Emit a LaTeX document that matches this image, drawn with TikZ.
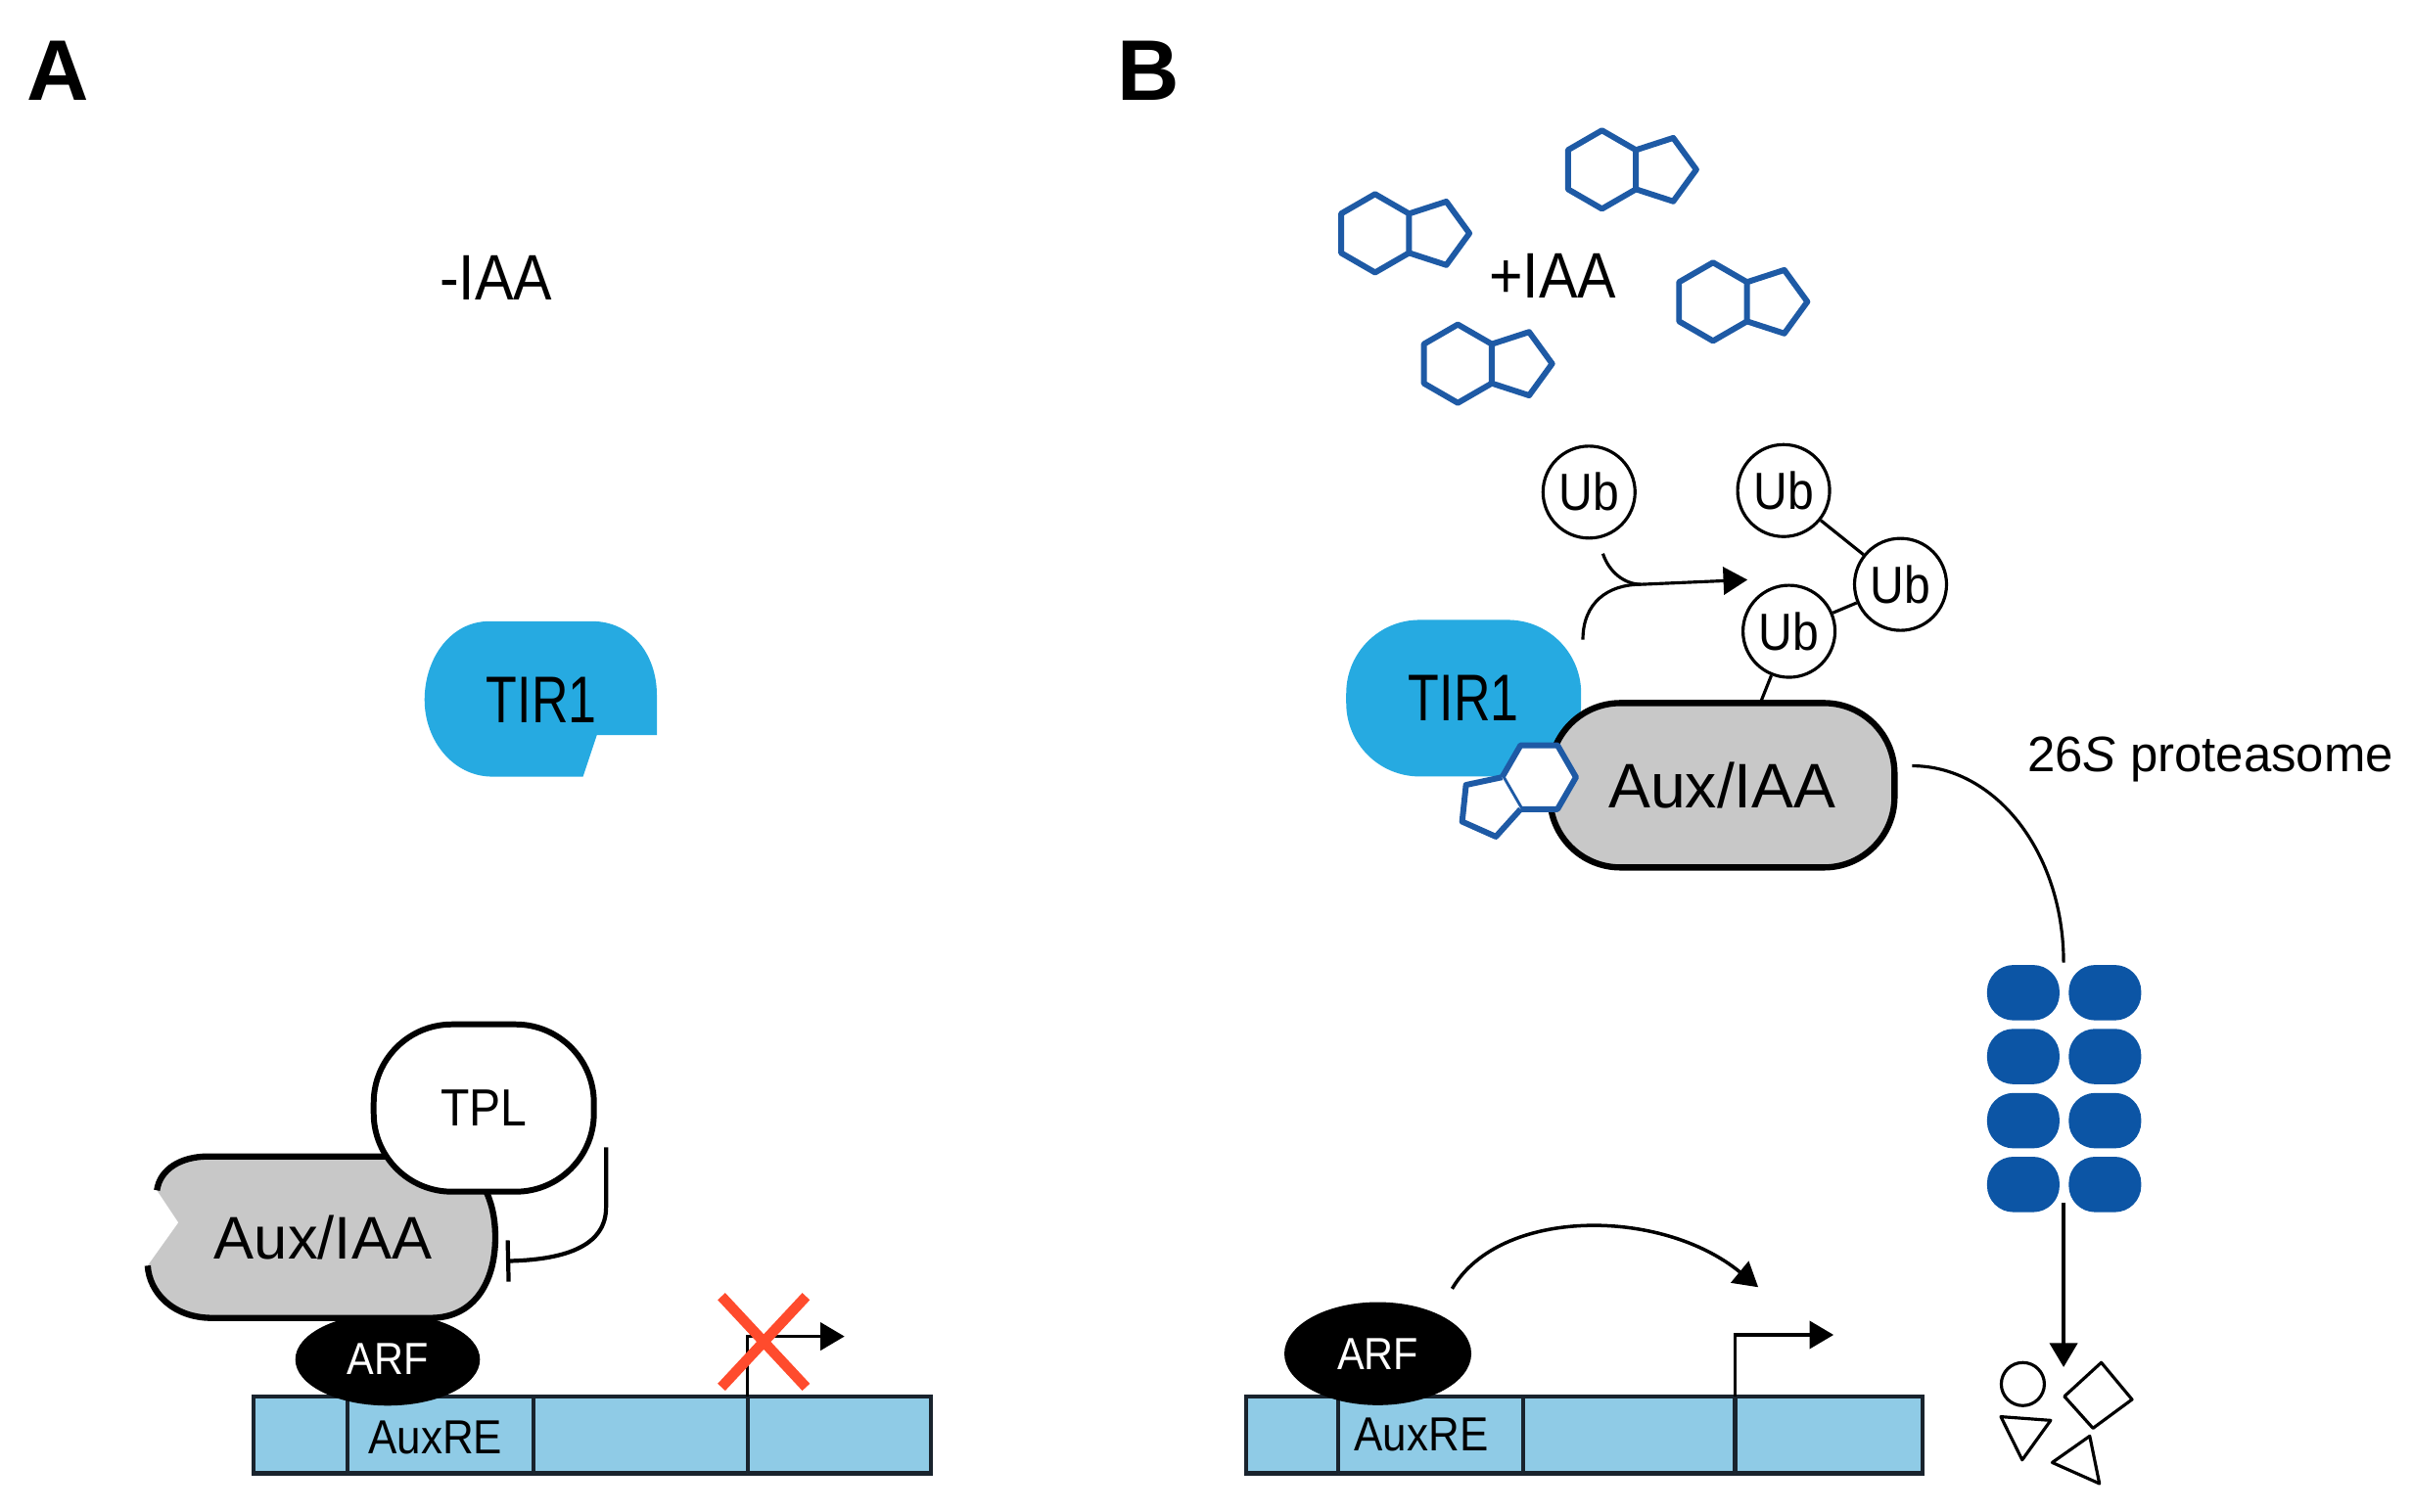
\documentclass[tikz,border=0pt]{standalone}
\usepackage{fontspec}
\setmainfont{Liberation Sans}
\newfontfamily\narrowfont[FakeStretch=0.9]{Liberation Sans}
\newfontfamily\tirfont[FakeStretch=0.77]{Liberation Sans}
\usetikzlibrary{shapes.geometric,arrows.meta}

\definecolor{tirblue}{RGB}{38,170,225}
\definecolor{auxgray}{RGB}{200,200,200}
\definecolor{dnablue}{RGB}{143,203,230}
\definecolor{dnaline}{RGB}{25,35,45}
\definecolor{iaablue}{RGB}{30,90,165}
\definecolor{protblue}{RGB}{12,85,165}
\definecolor{xred}{RGB}{255,75,45}

\tikzset{
  pics/indole/.style={code={
    \draw[iaablue, line width=1.7pt, line join=round, fill=#1]
      (30:1) -- (90:1) -- (150:1) -- (210:1) -- (270:1) -- (330:1) -- cycle;
    \draw[iaablue, line width=1.7pt, line join=round, fill=#1]
      (30:1) -- (1.8172,0.8090) -- (2.4050,0) -- (1.8172,-0.8090) -- (330:1);
  }},
  pics/indole/.default=none,
  thinline/.style={line width=0.9pt},
  dna/.style={fill=dnablue, draw=dnaline, line width=1.2pt},
  tirbox/.style={fill=tirblue, rounded corners=0.75cm, minimum width=2.40cm,
    minimum height=1.60cm, inner sep=0pt, font=\tirfont\fontsize{19.2}{20}\selectfont},
  auxbox/.style={fill=auxgray, draw, line width=1.8pt, rounded corners=0.72cm,
    minimum width=3.52cm, minimum height=1.68cm, inner sep=0pt, font=\fontsize{18.3}{20}\selectfont},
  tplbox/.style={fill=white, draw, line width=1.7pt, rounded corners=0.8cm,
    minimum width=2.25cm, minimum height=1.71cm, inner sep=0pt, font=\narrowfont\fontsize{15.2}{16}\selectfont},
  arfnode/.style={ellipse, fill=black, text=white, inner sep=0pt, font=\narrowfont\fontsize{13.1}{14}\selectfont},
  ubnode/.style={circle, draw, fill=white, line width=0.9pt, minimum size=0.94cm,
    inner sep=0pt, font=\narrowfont\fontsize{15.2}{16}\selectfont},
  pill/.style={fill=protblue, rounded corners=0.27cm, minimum width=0.74cm,
    minimum height=0.566cm, inner sep=0pt},
  frag/.style={line width=0.9pt, line join=round},
  panel/.style={anchor=base, font=\bfseries\fontsize{25}{26}\selectfont},
  iaalabel/.style={anchor=base, font=\narrowfont\fontsize{18.7}{20}\selectfont},
  auxre/.style={font=\narrowfont\fontsize{13.9}{15}\selectfont},
}

\begin{document}
\begin{tikzpicture}[x=0.015714cm, y=-0.015714cm, >={Triangle[length=7pt,width=8pt]}]

\useasboundingbox (0,0) rectangle (1568,982.6);
\fill[white] (0,0) rectangle (1568,982.6);

% panel A
\node[panel] (labA) at (37.5,65) {A};
\node[iaalabel] (minus) at (322.5,195) {-IAA};

\fill[tirblue] (318,404) -- (385,404) .. controls (410,404) and (427,425) .. (427,452)
  -- (427,478) -- (388,478) -- (379,505) -- (320,505)
  .. controls (295,505) and (276,482) .. (276,455)
  .. controls (276,428) and (293,404) .. (318,404) -- cycle;
\node[font=\tirfont\fontsize{19.2}{20}\selectfont] (tirA) at (352,455) {TIR1};

\draw[dna] (165,908) rectangle (605,958);
\foreach \x in {226,347,486}
  \draw[dna] (\x,908) -- (\x,958);
\node[auxre] (auxreA) at (283,935) {AuxRE};

\node[arfnode, minimum width=1.886cm, minimum height=0.943cm] (arfA) at (252,884) {ARF};

\fill[auxgray] (102,774) .. controls (104,760) and (118,752) .. (135,752) -- (280,752)
  .. controls (308,752) and (322,775) .. (322,804.5)
  .. controls (322,834) and (308,857) .. (280,857) -- (138,857)
  .. controls (112,857) and (97,840) .. (96,823) -- (116,795) -- cycle;
\draw[line width=1.8pt] (102,774) .. controls (104,760) and (118,752) .. (135,752) -- (280,752)
  .. controls (308,752) and (322,775) .. (322,804.5)
  .. controls (322,834) and (308,857) .. (280,857) -- (138,857)
  .. controls (112,857) and (97,840) .. (96,823);
\node[font=\fontsize{17.5}{19}\selectfont] (auxA) at (210,805) {Aux/IAA};

\node[tplbox] (tpl) at (314.5,720.5) {TPL};

\coordinate (tplout) at (394,746);
\coordinate (auxhit) at (329,820);
\draw[line width=1.2pt, -{Bar[width=12pt]}] (tplout) -- (394,785)
  .. controls (394,808) and (372,819) .. (auxhit);

\coordinate (tssA) at (486,908);
\draw[line width=1pt, ->] (tssA) -- ++(0,-39) -- ++(63,0);
\draw[xred, line width=3pt] (469,843) -- (524,902) (524,843) -- (469,902);

% panel B
\node[panel] (labB) at (746.5,65) {B};
\node[iaalabel] (plus) at (1009.5,194) {+IAA};

\pic[scale=25.5] at (893.9,151.7) {indole};
\pic[scale=25.5] at (1041.4,110.3) {indole};
\pic[scale=25.5] at (1113.6,196.2) {indole};
\pic[scale=25.5] at (947.7,236.5) {indole};

\node[tirbox] (tirB) at (951.5,454) {TIR1};
\node[auxbox] (auxB) at (1119.6,510.6) {Aux/IAA};
\pic[scale=24, rotate=210] at (1000.5,505.4) {indole=white};

\node[ubnode] (ubF) at (1033,320) {Ub};
\node[ubnode] (ubT) at (1159.5,319) {Ub};
\node[ubnode] (ubR) at (1235.5,380) {Ub};
\node[ubnode] (ubL) at (1163,410.5) {Ub};
\coordinate (auxtag) at (1144,458);
\draw[thinline] (ubT) -- (ubR);
\draw[thinline] (ubR) -- (ubL);
\draw[thinline] (ubL) -- (auxtag);

\coordinate (tirtop) at (1029,416);
\coordinate (ubdrop) at (1042,360);
\coordinate (ubjoin) at (1067,380);
\coordinate (ubtip) at (1136,377);
\draw[thinline] (tirtop) .. controls (1029,392) and (1045,380) .. (ubjoin);
\draw[thinline] (ubdrop) .. controls (1046,372) and (1056,380) .. (ubjoin);
\draw[thinline, ->] (ubjoin) -- (ubtip);

\node[anchor=base, font=\fontsize{14.5}{16}\selectfont] (prot) at (1437,502) {26\textit{S} proteasome};

\foreach \c/\x in {1/1315.3, 2/1368.4}
  \foreach \r/\y in {1/645.5, 2/687, 3/728.7, 4/770.2}
    \node[pill] (p\c\r) at (\x,\y) {};

\coordinate (auxend) at (1243,498);
\coordinate (prottop) at (1341.5,626);
\draw[thinline] (auxend) .. controls (1297,498) and (1341.5,554) .. (prottop);

\coordinate (protbot) at (1341.5,782);
\coordinate (fragtop) at (1341.5,889);
\draw[line width=1.1pt, ->] (protbot) -- (fragtop);

\node[circle, draw, line width=0.9pt, minimum size=0.44cm, inner sep=0pt] (fragO) at (1315,900) {};
\draw[frag] (1366,886) -- (1386,910) -- (1360.6,928.7) -- (1342,908) -- cycle;
\draw[frag] (1300.7,921.2) -- (1333.1,923.6) -- (1314.6,949.3) -- cycle;
\draw[frag] (1334.1,951) -- (1358.5,933.8) -- (1364.8,964.7) -- cycle;

\draw[dna] (810,908) rectangle (1250,958);
\foreach \x in {870,990,1128}
  \draw[dna] (\x,908) -- (\x,958);
\node[auxre] (auxreB) at (924,933) {AuxRE};

\node[arfnode, minimum width=1.91cm, minimum height=1.053cm] (arfB) at (895.7,880.2) {ARF};

\coordinate (arfout) at (944,838);
\coordinate (tssup) at (1143,837);
\draw[line width=1pt, ->] (arfout) .. controls (975,785) and (1080,785) .. (tssup);

\coordinate (tssB) at (1128,908);
\draw[line width=1pt, ->] (tssB) -- ++(0,-40) -- ++(64,0);

\end{tikzpicture}
\end{document}
